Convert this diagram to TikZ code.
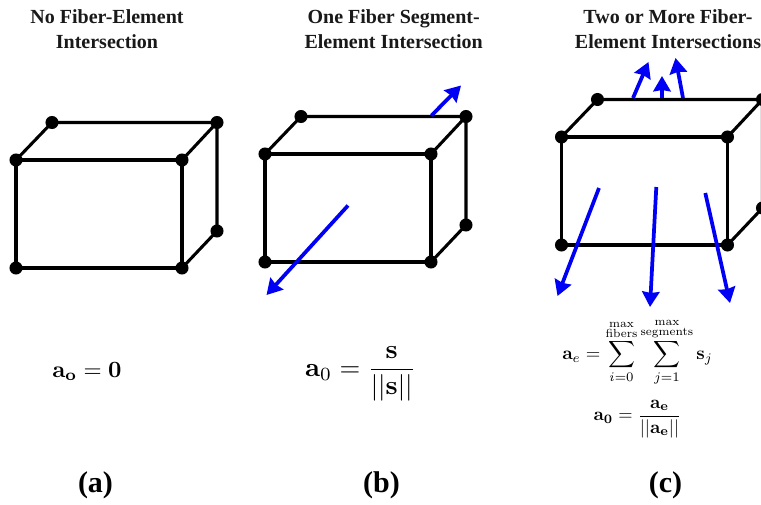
\documentclass[tikz,border=0pt]{standalone}
\usepackage{amsmath}
\usepackage[no-math]{fontspec}
\setmainfont{Liberation Serif}
\usetikzlibrary{arrows.meta}
\definecolor{fiberblue}{RGB}{0,0,245}
\newcommand{\limtext}[1]{\scalebox{0.9}{$\scriptstyle\substack{#1}$}}
\tikzset{
  vertex/.style={circle,fill=black,draw=none,inner sep=0pt,minimum size=9.8pt},
  edge/.style={draw=black,line width=2.3pt},
  fiber/.style={draw=fiberblue,line width=2.8pt,-{Stealth[length=11.5pt,width=13pt,inset=1pt]}},
  heading/.style={align=center,font=\fontsize{15}{18.6}\selectfont\bfseries,text=black!90,inner sep=0pt},
  tag/.style={anchor=base,font=\fontsize{22.5}{26}\selectfont\bfseries,inner sep=0pt},
  formula/.style={inner sep=0pt,anchor=base},
}
\newcommand{\boxcube}[3]{%
  \node[vertex] (#1btl) at (#2+36,#3-37.5) {};
  \node[vertex] (#1btr) at (#2+201,#3-37.5) {};
  \node[vertex] (#1ftl) at (#2,#3) {};
  \node[vertex] (#1ftr) at (#2+166,#3) {};
  \node[vertex] (#1fbl) at (#2,#3+108) {};
  \node[vertex] (#1fbr) at (#2+166,#3+108) {};
  \node[vertex] (#1bbr) at (#2+201,#3+71) {};
  \draw[edge] (#1ftl.center) -- (#1ftr.center) -- (#1fbr.center) -- (#1fbl.center) -- (#1ftl.center);
  \draw[edge] (#1ftl.center) -- (#1btl.center) -- (#1btr.center) -- (#1ftr.center);
  \draw[edge] (#1btr.center) -- (#1bbr.center) -- (#1fbr.center);
}
\begin{document}
\begin{tikzpicture}[x=0.75pt,y=-0.75pt]
\clip (0,0) rectangle (761,504);
\fill[white] (0,0) rectangle (761,504);

\boxcube{a}{16}{160}
\boxcube{b}{265}{154}
\boxcube{c}{561.5}{137}

% fibres, panel b
\coordinate (b1s) at (431.5,115.5); \coordinate (b1e) at (461,85.5);
\coordinate (b2s) at (348,205.5);   \coordinate (b2e) at (266.5,295);
\draw[fiber] (b1s) -- (b1e);
\draw[fiber] (b2s) -- (b2e);

% fibres, panel c
\coordinate (c1s) at (633,98);   \coordinate (c1e) at (648.5,62);
\coordinate (c2s) at (662,98);   \coordinate (c2e) at (662,76);
\coordinate (c3s) at (683,98);   \coordinate (c3e) at (675.5,58);
\coordinate (c4s) at (599,188);  \coordinate (c4e) at (557.5,296);
\coordinate (c5s) at (656.3,187);\coordinate (c5e) at (650,307);
\coordinate (c6s) at (705.3,193);\coordinate (c6e) at (730,303);
\foreach \k in {1,...,6}{\draw[fiber] (c\k s) -- (c\k e);}

% headings
\node[heading] (ta) at (107,29) {No Fiber-Element\\Intersection};
\node[heading] (tb) at (393.7,29) {One Fiber Segment-\\Element Intersection};
\node[heading] (tc) at (668,29) {Two or More Fiber-\\Element Intersections};

% formulas
\node[formula,scale=1.75] (fa) at (87,377) {$\mathbf{a_o}=\mathbf{0}$};
\node[formula,scale=2] (fb) at (360.5,376.5) {$\mathbf{a}_0=\dfrac{\mathbf{s}}{||\mathbf{s}||}$};
\node[formula,scale=1.4] (fc) at (637.5,359.5) {$\mathbf{a}_e=\displaystyle\sum_{i=0}^{\limtext{\mathrm{max}\\\mathrm{fibers}}}\sum_{j=1}^{\limtext{\mathrm{max}\\\mathrm{segments}}}\mathbf{s}_j$};
\node[formula,scale=1.38] (fd) at (637.5,420.5) {$\mathbf{a_0}=\dfrac{\mathbf{a_e}}{||\mathbf{a_e}||}$};

% panel tags
\node[tag] (la) at (95.5,492) {(a)};
\node[tag] (lb) at (381.5,492) {(b)};
\node[tag] (lc) at (665.5,492) {(c)};
\end{tikzpicture}
\end{document}
